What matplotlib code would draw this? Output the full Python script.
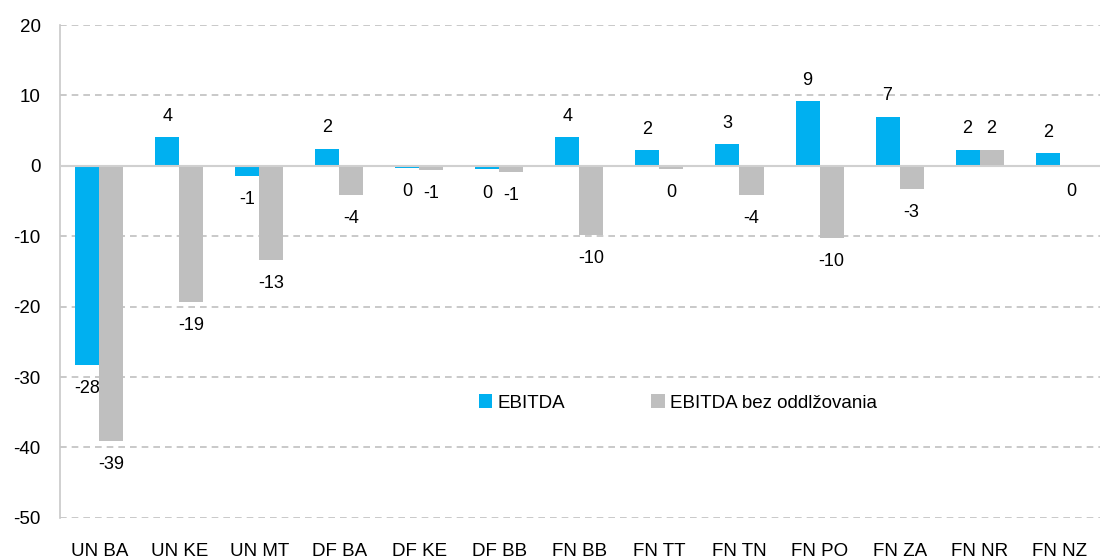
import matplotlib.pyplot as plt
import numpy as np

plt.rcParams['font.family'] = ['Liberation Sans', 'DejaVu Sans']
plt.rcParams['axes.unicode_minus'] = False

# data
kraje = ['UN BA', 'UN KE', 'UN MT', 'DF BA', 'DF KE', 'DF BB', 'FN BB',
         'FN TT', 'FN TN', 'FN PO', 'FN ZA', 'FN NR', 'FN NZ']
ebitda = [-28.3, 4.1, -1.4, 2.4, -0.3, -0.5, 4.1, 2.2, 3.1, 9.2, 7.0, 2.3, 1.8]
ebitda_bez = [-39.1, -19.3, -13.4, -4.1, -0.6, -0.8, -9.8, -0.4, -4.1, -10.2, -3.3, 2.3, -0.2]

modra = '#00B0F0'
siva = '#BFBFBF'

fig = plt.figure(figsize=(11.01, 5.58), dpi=100)
ax = fig.add_axes([0.0545, 0.072, 0.945, 0.883])

x = np.arange(len(kraje))
w = 0.3
b1 = ax.bar(x - w/2, ebitda, w, color=modra, label='EBITDA', zorder=2)
b2 = ax.bar(x + w/2, ebitda_bez, w, color=siva, label='EBITDA bez oddlžovania', zorder=2)

# popisky hodnot
for bars, vals in [(b1, ebitda), (b2, ebitda_bez)]:
    for r, v in zip(bars, vals):
        txt = '%d' % round(v)
        if v >= 0:
            ax.annotate(txt, (r.get_x() + r.get_width()/2, v), xytext=(0, 9),
                        textcoords='offset points', ha='center', va='bottom', fontsize=13)
        else:
            ax.annotate(txt, (r.get_x() + r.get_width()/2, v), xytext=(0, -11),
                        textcoords='offset points', ha='center', va='top', fontsize=13)

ax.set_ylim(-50, 20)
ax.set_xlim(-0.49, 12.51)
ax.set_yticks(np.arange(-50, 21, 10))
ax.set_xticks(x)
ax.set_xticklabels(kraje)
ax.tick_params(axis='both', length=0, labelsize=13.5)
ax.tick_params(axis='x', pad=18)
ax.tick_params(axis='y', pad=14)

for yy in np.arange(-50, 21, 10):
    if yy == 0:
        ax.axhline(0, color='#D0D0D0', lw=1.5, zorder=3)
    else:
        ax.axhline(yy, color='#C0C0C0', lw=1.2, ls=(0, (4, 3)), zorder=1)

for s in ['top', 'right', 'bottom']:
    ax.spines[s].set_visible(False)
ax.spines['left'].set_color('#C8C8C8')
ax.spines['left'].set_linewidth(1.2)

ax.legend(loc='center', bbox_to_anchor=(0.594, 0.233), ncol=2, frameon=False,
          fontsize=13.5, handlelength=0.7, handleheight=0.7, handletextpad=0.3,
          columnspacing=4.6)

plt.savefig('out.png', dpi=100)
